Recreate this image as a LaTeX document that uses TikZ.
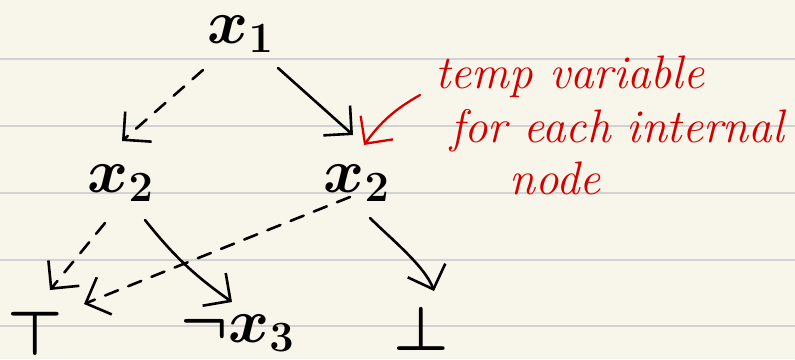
\documentclass[tikz,border=0pt]{standalone}
\usetikzlibrary{arrows.meta,calc}
\definecolor{paper}{HTML}{F8F6EA}
\definecolor{ruleline}{HTML}{D2D2D2}
\definecolor{ink}{HTML}{D40000}
\begin{document}
\begin{tikzpicture}[x=1pt,y=1pt,
  sym/.style={inner sep=0pt, anchor=base, font=\fontsize{20}{24}\selectfont\boldmath, scale=3},
  note/.style={text=ink, inner sep=0pt, anchor=base, font=\fontsize{47}{52}\selectfont\itshape},
  edge/.style={line width=2.6pt, line cap=round, line join=round, -{Straight Barb[length=20pt,width=40pt]}},
  lo/.style={edge, dash pattern=on 14pt off 11pt},
  hi/.style={edge},
  remark/.style={edge, draw=ink, line width=2.3pt}
]
\fill[paper] (0,0) rectangle (795,-359);
\useasboundingbox (0,0) rectangle (795,-359);
\foreach \y in {59,126,193,260,326} \draw[ruleline, line width=2pt] (0,-\y) -- (795,-\y);

\node[sym] (x1) at (241,-43) {$x_1$};
\node[sym] (l2) at (121,-192) {$x_2$};
\node[sym] (r2) at (357,-192) {$x_2$};
\node[sym] (T) at (35,-355) {$\top$};
\node[sym] (nx3) at (238,-342) {$\neg x_3$};
\node[sym] (bot) at (421,-350) {$\bot$};

\node[note] (n1) at (570,-88) {temp variable};
\node[note] (n2) at (617,-142) {for each internal};
\node[note] (n3) at (555,-194) {node};
\coordinate (tail) at (420,-95);

\draw[lo] ($(x1.base)+(-38,-27)$) -- ($(l2.base)+(1,51)$);
\draw[hi] ($(x1.base)+(37,-25)$) -- ($(r2.base)+(-4,57)$);
\draw[remark] (tail) to[bend right=12] ($(r2.base)+(7,47)$);
\draw[lo] ($(l2.base)+(-16,-31)$) -- ($(T.base)+(15,65)$);
\draw[hi] ($(l2.base)+(24,-28)$) to[bend right=8] ($(nx3.base)+(-6,40)$);
\draw[lo] ($(r2.base)+(-7,-5)$) -- ($(T.base)+(49,51)$);
\draw[hi] ($(r2.base)+(13,-26)$) to[out=-45,in=110,looseness=0.7] ($(bot.base)+(13,59)$);
\end{tikzpicture}
\end{document}
